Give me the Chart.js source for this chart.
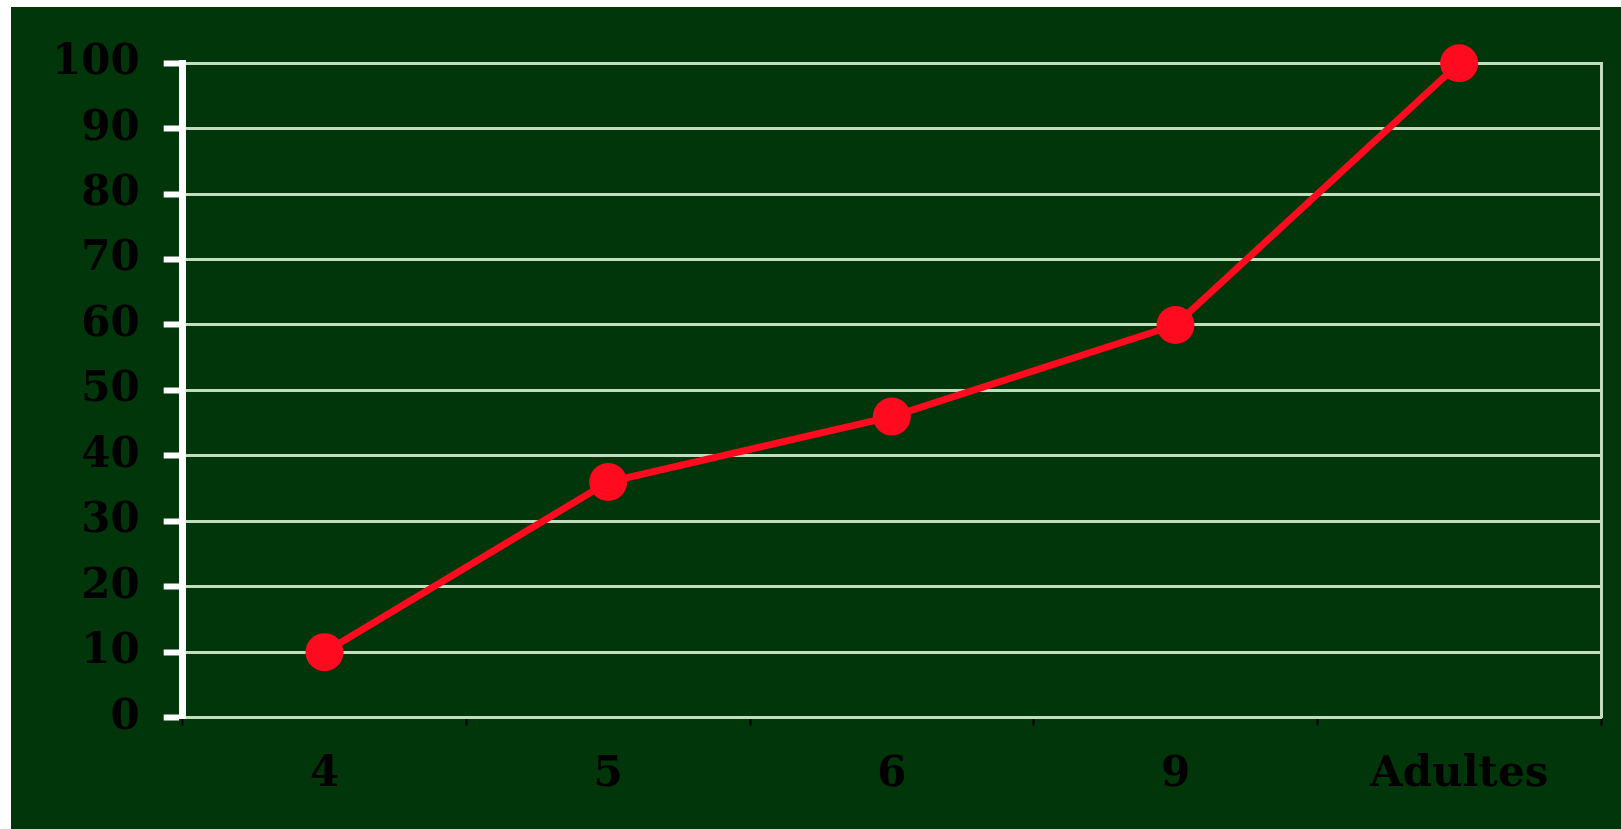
<!DOCTYPE html>
<html lang="fr">
<head>
    <meta charset="UTF-8">
    <title>Courbe</title>
    <script src="https://cdn.jsdelivr.net/npm/chart.js"></script>
    <style>
        body { margin: 0; background: #ffffff; overflow: hidden; }
        #box { position: absolute; left: 11px; top: 7px; width: 1610px; height: 822px; background: #01350a; overflow: hidden; }
        #lineChart { position: absolute; left: 0; top: 7px; }
    </style>
</head>
<body>
    <div id="box"><canvas id="lineChart" width="1610" height="822"></canvas></div>

    <script>
        // Data
        const categories = ['4', '5', '6', '9', 'Adultes'];
        const values = [10, 36, 46, 60, 100];
        const yMin = 0, yMax = 100, yStep = 10;

        const gridColor = '#c2dcbe';
        const lineRed = '#ff0a1e';
        const labelFont = { family: 'DejaVu Serif', size: 42, weight: 'bold' };

        window.onload = () => {
            const ctx = document.getElementById('lineChart').getContext('2d');
            new Chart(ctx, {
                type: 'line',
                data: {
                    labels: categories,
                    datasets: [{
                        data: values,
                        borderColor: lineRed,
                        backgroundColor: lineRed,
                        borderWidth: 7,
                        pointRadius: 19,
                        pointHoverRadius: 19,
                        pointBorderWidth: 0,
                        tension: 0,
                        clip: false
                    }]
                },
                options: {
                    responsive: false,
                    animation: false,
                    layout: { padding: { top: 38, left: 17, right: 20, bottom: 12 } },
                    plugins: { legend: { display: false }, tooltip: { enabled: false } },
                    scales: {
                        x: {
                            offset: true,
                            grid: {
                                offset: true,
                                drawOnChartArea: false,
                                tickColor: '#000000',
                                tickLength: 8,
                                tickWidth: 2
                            },
                            border: { color: gridColor, width: 3 },
                            ticks: { color: '#000000', font: labelFont, padding: 24 }
                        },
                        y: {
                            min: yMin,
                            max: yMax,
                            grid: {
                                color: gridColor,
                                lineWidth: 3,
                                tickColor: '#ffffff',
                                tickWidth: 6,
                                tickLength: 19
                            },
                            border: { color: '#ffffff', width: 7 },
                            ticks: { stepSize: yStep, color: '#000000', font: labelFont, padding: 24 }
                        },
                        y2: {
                            position: 'right',
                            min: yMin,
                            max: yMax,
                            grid: { drawOnChartArea: false, drawTicks: false },
                            border: { color: gridColor, width: 3 },
                            ticks: { display: false }
                        }
                    }
                }
            });
        };
    </script>
</body>
</html>
